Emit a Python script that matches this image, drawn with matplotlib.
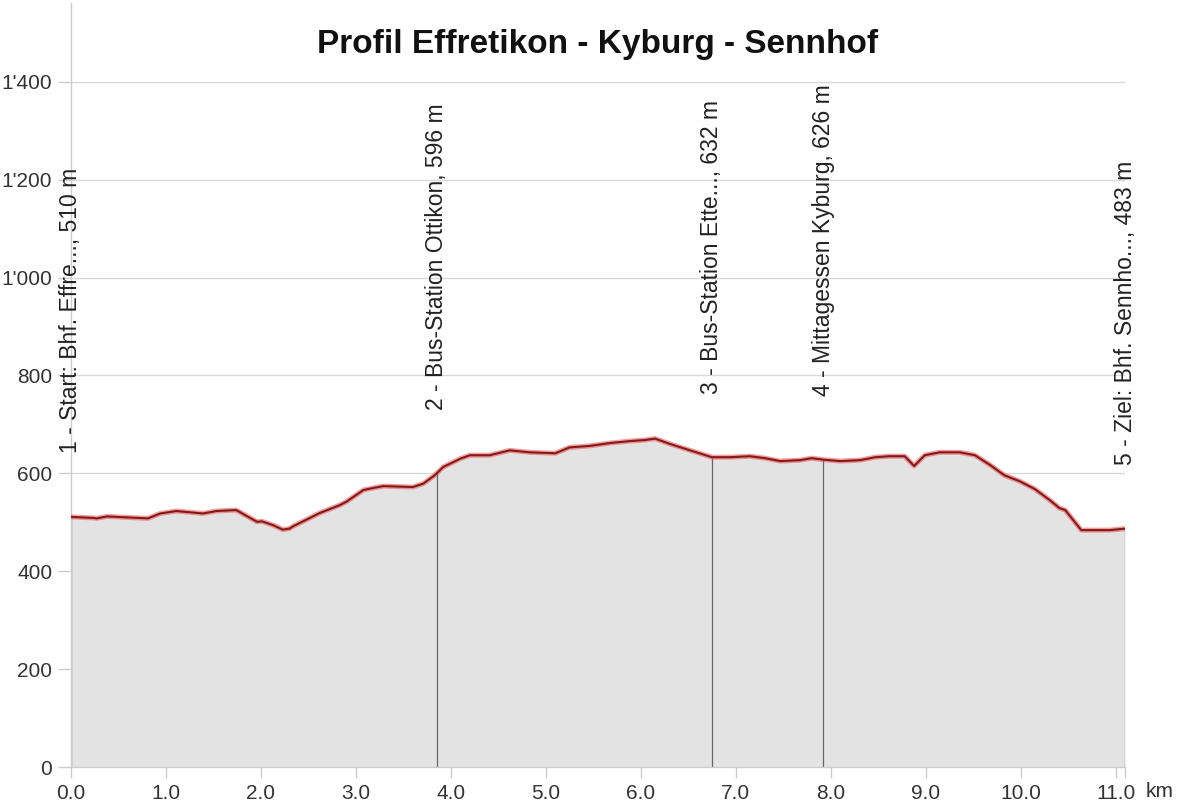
import numpy as np
import matplotlib
matplotlib.use("Agg")
import matplotlib.pyplot as plt
from matplotlib.ticker import FuncFormatter

plt.rcParams["font.family"] = ["Liberation Sans", "DejaVu Sans"]

# Höhenprofil (Distanz km, Höhe m)
dist_km = [0.0, 0.23, 0.27, 0.38, 0.59, 0.81, 0.94, 1.11, 1.39, 1.53, 1.74, 1.96, 2.01,
           2.13, 2.23, 2.30, 2.34, 2.62, 2.83, 2.90, 3.08, 3.18, 3.29, 3.60, 3.71, 3.83,
           3.92, 4.10, 4.20, 4.41, 4.62, 4.83, 5.10, 5.25, 5.46, 5.68, 5.89, 6.04, 6.15,
           6.31, 6.52, 6.75, 6.94, 7.15, 7.31, 7.47, 7.68, 7.80, 7.92, 8.10, 8.31, 8.47,
           8.62, 8.78, 8.88, 8.99, 9.15, 9.36, 9.52, 9.68, 9.83, 9.99, 10.15, 10.31,
           10.41, 10.47, 10.64, 10.78, 10.94, 11.1]
elev_m = [511, 509, 508, 512, 510, 508, 518, 523, 518, 523, 525, 501, 502,
          494, 485, 487, 492, 519, 535, 542, 566, 570, 574, 572, 579, 596,
          613, 630, 637, 637, 647, 643, 641, 653, 656, 662, 666, 668, 671,
          660, 647, 633, 633, 635, 631, 625, 627, 631, 628, 625, 627, 633,
          635, 635, 615, 637, 643, 643, 637, 617, 596, 584, 568, 545,
          529, 525, 484, 484, 484, 487]

# Wegpunkte
wp_km = [0.0, 3.85, 6.75, 7.92, 11.1]
wp_labels = ["1 - Start: Bhf. Effre..., 510 m",
             "2 - Bus-Station Ottikon, 596 m",
             "3 - Bus-Station Ette..., 632 m",
             "4 - Mittagessen Kyburg, 626 m",
             "5 - Ziel: Bhf. Sennho..., 483 m"]

title = "Profil Effretikon - Kyburg - Sennhof"

fig = plt.figure(figsize=(11.79, 8.05), dpi=100)
ax = fig.add_axes([71 / 1179, 38 / 805, (1125 - 71) / 1179, (802 - 38) / 805])

ax.fill_between(dist_km, elev_m, 0, color="#e3e3e3", zorder=1, linewidth=0)
ax.plot(dist_km, elev_m, color="#e85050", lw=3.6, alpha=0.55, zorder=3, solid_capstyle="round")
ax.plot(dist_km, elev_m, color="#861818", lw=1.5, zorder=4)

wp_elev = np.interp(wp_km, dist_km, elev_m)
for x, h, lab in zip(wp_km, wp_elev, wp_labels):
    ax.vlines(x, 0, h, color="#666666", lw=0.9, zorder=2)
    ax.text(x, h + 130, lab, rotation=90, ha="center", va="bottom",
            fontsize=16.5, color="#222222", zorder=5, clip_on=False)

ax.set_xlim(0, 11.1)
ax.set_ylim(0, 1561)
ax.set_xticks(range(12))
ax.set_xticks([11.1], minor=True)
ax.xaxis.set_major_formatter(FuncFormatter(lambda v, p: f"{v:.1f}"))
ax.set_yticks(range(0, 1401, 200))
ax.yaxis.set_major_formatter(FuncFormatter(lambda v, p: f"{int(v):,}".replace(",", "'")))

ax.tick_params(axis="y", length=9.5, width=1, color="#cccccc", pad=4, labelsize=15, labelcolor="#333333")
ax.tick_params(axis="x", which="both", length=8, width=1, color="#cccccc", pad=4, labelsize=15, labelcolor="#333333")
ax.grid(axis="y", color="#d9d9d9", lw=1, zorder=0)
ax.set_axisbelow(True)

for s in ["top", "right"]:
    ax.spines[s].set_visible(False)
for s in ["left", "bottom"]:
    ax.spines[s].set_color("#cccccc")
    ax.spines[s].set_linewidth(1)

fig.text(1146 / 1179, 1 - 782 / 805, "km", ha="left", va="top", fontsize=15, color="#333333")
fig.text(598 / 1179, 1 - 44 / 805, title, ha="center", va="center", fontsize=24, fontweight="bold", color="#111111")

plt.savefig("out.png", dpi=100)
